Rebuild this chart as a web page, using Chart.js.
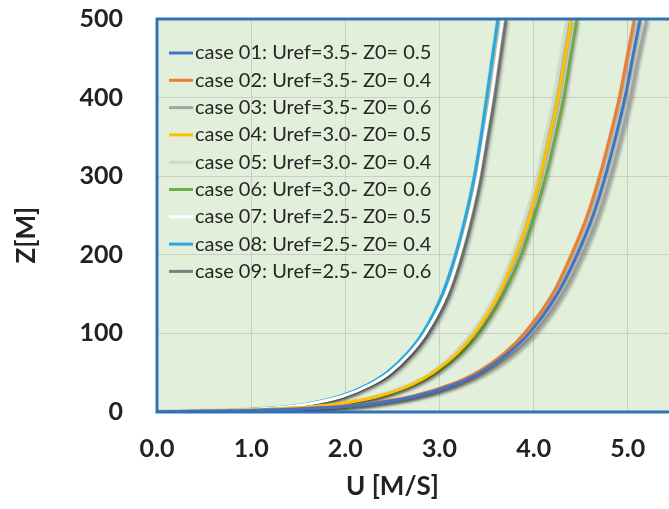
<!DOCTYPE html>
<html>
<head>
<meta charset="utf-8">
<script src="https://cdn.jsdelivr.net/npm/chart.js@4.4.1/dist/chart.umd.min.js"></script>
<style>
  html, body { margin: 0; padding: 0; background: #fff; overflow: hidden; }
  #wrap { width: 745px; height: 509px; }
</style>
</head>
<body>
<div id="wrap"><canvas id="profileChart" width="745" height="509"></canvas></div>
<script>
// heights Z [m] shared by every profile
var heights = [0, 1, 2, 5, 10, 20, 35, 50, 75, 100, 150, 200, 250, 300, 350, 400, 450, 500];

// wind speed U [m/s] at those heights
var case01 = [0, 0.52, 1.04, 1.72, 2.24, 2.75, 3.16, 3.43, 3.73, 3.95, 4.25, 4.46, 4.63, 4.76, 4.87, 4.97, 5.05, 5.13];
var case02 = [0, 0.51, 1.02, 1.69, 2.20, 2.71, 3.12, 3.39, 3.69, 3.90, 4.20, 4.40, 4.57, 4.70, 4.81, 4.91, 4.99, 5.07];
var case03 = [0, 0.53, 1.06, 1.75, 2.28, 2.79, 3.21, 3.48, 3.79, 4.01, 4.31, 4.52, 4.69, 4.82, 4.93, 5.03, 5.11, 5.20];
var case04 = [0, 0.44, 0.88, 1.47, 1.91, 2.35, 2.71, 2.93, 3.19, 3.37, 3.63, 3.81, 3.96, 4.07, 4.17, 4.26, 4.33, 4.40];
var case05 = [0, 0.44, 0.88, 1.45, 1.89, 2.33, 2.68, 2.91, 3.16, 3.34, 3.60, 3.78, 3.92, 4.04, 4.13, 4.22, 4.29, 4.36];
var case06 = [0, 0.45, 0.90, 1.49, 1.94, 2.38, 2.74, 2.97, 3.23, 3.42, 3.68, 3.87, 4.01, 4.13, 4.23, 4.32, 4.39, 4.46];
var case07 = [0, 0.37, 0.74, 1.23, 1.60, 1.97, 2.27, 2.47, 2.69, 2.85, 3.07, 3.21, 3.32, 3.41, 3.48, 3.55, 3.61, 3.67];
var case08 = [0, 0.36, 0.73, 1.21, 1.58, 1.94, 2.24, 2.44, 2.66, 2.82, 3.03, 3.17, 3.28, 3.37, 3.44, 3.50, 3.56, 3.62];
var case09 = [0, 0.38, 0.75, 1.25, 1.62, 2.00, 2.30, 2.51, 2.73, 2.89, 3.11, 3.25, 3.36, 3.45, 3.52, 3.59, 3.65, 3.71];

var caseLabels = [
    "case 01: Uref=3.5- Z0= 0.5",
    "case 02: Uref=3.5- Z0= 0.4",
    "case 03: Uref=3.5- Z0= 0.6",
    "case 04: Uref=3.0- Z0= 0.5",
    "case 05: Uref=3.0- Z0= 0.4",
    "case 06: Uref=3.0- Z0= 0.6",
    "case 07: Uref=2.5- Z0= 0.5",
    "case 08: Uref=2.5- Z0= 0.4",
    "case 09: Uref=2.5- Z0= 0.6"
];
var caseValues = [case01, case02, case03, case04, case05, case06, case07, case08, case09];
var caseColors = ["#4472c4", "#ed7d31", "#a5a5a5", "#ffc000", "#cddcc4", "#70ad47", "#ffffff", "#29a8e0", "#7f7f7f"];

var xTicks = [0, 1, 2, 3, 4, 5, 6];
var yTicks = [0, 100, 200, 300, 400, 500];

function toPoints(values) {
    return values.map(function (u, i) {
        return { x: u, y: heights[i] };
    });
}

var datasets = caseValues.map(function (values, i) {
    return {
        label: caseLabels[i],
        data: toPoints(values),
        showLine: true,
        borderColor: caseColors[i],
        backgroundColor: caseColors[i],
        borderWidth: 3,
        pointRadius: 0,
        pointHoverRadius: 0,
        cubicInterpolationMode: 'monotone',
        fill: false
    };
});

var tickFont = { family: 'Lato', size: 25, weight: 'bold' };

// plot area fill, frame, legend and axis titles
var framePlugin = {
    id: 'frame',
    beforeDraw: function (chart) {
        var ctx = chart.ctx, a = chart.chartArea;
        ctx.save();
        ctx.fillStyle = '#e2efda';
        ctx.fillRect(a.left, a.top, a.right - a.left, a.bottom - a.top);
        ctx.restore();
    },
    beforeDatasetsDraw: function (chart) {
        // legend sits inside the plot, top-left, under the curves
        var ctx = chart.ctx, a = chart.chartArea;
        ctx.save();
        ctx.font = '20px Lato';
        ctx.textAlign = 'left';
        ctx.textBaseline = 'middle';
        chart.data.datasets.forEach(function (ds, i) {
            var y = a.top + 34 + i * 27.3;
            ctx.strokeStyle = ds.borderColor;
            ctx.lineWidth = 3;
            ctx.beginPath();
            ctx.moveTo(a.left + 12, y);
            ctx.lineTo(a.left + 36, y);
            ctx.stroke();
            ctx.fillStyle = '#262626';
            ctx.fillText(ds.label, a.left + 38, y);
        });
        ctx.restore();
    },
    afterDraw: function (chart) {
        var ctx = chart.ctx, a = chart.chartArea;
        ctx.save();
        ctx.strokeStyle = '#2f72b5';
        ctx.lineWidth = 3;
        ctx.beginPath();
        ctx.moveTo(a.right + 2, a.top);
        ctx.lineTo(a.left, a.top);
        ctx.lineTo(a.left, a.bottom);
        ctx.lineTo(a.right + 2, a.bottom);
        ctx.stroke();

        var xs = chart.scales.x, ys = chart.scales.y;
        ctx.fillStyle = '#222';
        ctx.font = 'bold 26px Lato';
        ctx.textAlign = 'center';
        ctx.textBaseline = 'middle';
        ctx.fillText('U [M/S]', xs.getPixelForValue(2.5), 487);
        ctx.translate(27, ys.getPixelForValue(225));
        ctx.rotate(-Math.PI / 2);
        ctx.fillText('Z[M]', 0, 0);
        ctx.restore();
    }
};

// soft drop shadow under each profile line
var shadowPlugin = {
    id: 'lineShadow',
    beforeDatasetDraw: function (chart) {
        var ctx = chart.ctx;
        ctx.save();
        ctx.shadowColor = 'rgba(0, 0, 0, 0.35)';
        ctx.shadowBlur = 3;
        ctx.shadowOffsetX = 1;
        ctx.shadowOffsetY = 2;
    },
    afterDatasetDraw: function (chart) {
        chart.ctx.restore();
    }
};

var ctx = document.getElementById('profileChart').getContext('2d');
var profileChart = new Chart(ctx, {
    type: 'scatter',
    data: { datasets: datasets },
    plugins: [framePlugin, shadowPlugin],
    options: {
        responsive: false,
        animation: false,
        layout: { padding: { top: 19, right: 23, bottom: 43, left: 0 } },
        scales: {
            x: {
                type: 'linear',
                min: 0,
                max: 6,
                afterBuildTicks: function (scale) {
                    scale.ticks = xTicks.map(function (v) { return { value: v }; });
                },
                ticks: {
                    font: tickFont,
                    color: '#222',
                    padding: 2,
                    callback: function (value) { return Number(value).toFixed(1); }
                },
                grid: { color: '#c6cfc0', lineWidth: 1, drawTicks: true, tickLength: 20, tickColor: 'rgba(0,0,0,0)' },
                border: { display: false }
            },
            y: {
                type: 'linear',
                min: 0,
                max: 500,
                afterBuildTicks: function (scale) {
                    scale.ticks = yTicks.map(function (v) { return { value: v }; });
                },
                afterFit: function (scale) { scale.width = 157; },
                ticks: {
                    font: tickFont,
                    color: '#222',
                    padding: 2
                },
                grid: { color: '#c6cfc0', lineWidth: 1, drawTicks: true, tickLength: 32, tickColor: 'rgba(0,0,0,0)' },
                border: { display: false }
            }
        },
        plugins: {
            legend: { display: false },
            tooltip: { enabled: false }
        }
    }
});
</script>
</body>
</html>
